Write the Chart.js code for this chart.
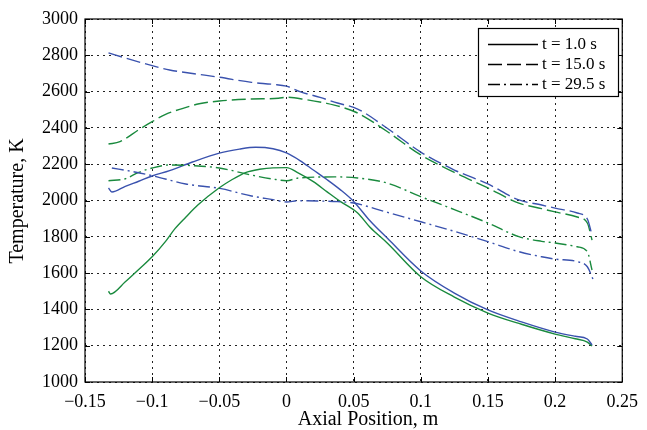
<!DOCTYPE html>
<html>
<head>
<meta charset="utf-8">
<script src="https://cdn.jsdelivr.net/npm/chart.js@4/dist/chart.umd.min.js"></script>
<style>
  html, body { margin: 0; padding: 0; background: #fff; }
  #chart { display: block; }
</style>
</head>
<body>
<canvas id="chart" width="647" height="430"></canvas>
<script>
// temperature profiles along the axis, two runs per time step
const xSolidBlue = [-0.1325, -0.13, -0.12, -0.11, -0.1, -0.087, -0.07, -0.05, -0.035, -0.023, -0.01, 0, 0.01, 0.02, 0.03, 0.04, 0.05, 0.062, 0.075, 0.1, 0.125, 0.15, 0.175, 0.2, 0.215, 0.224, 0.2275];
const ySolidBlue = [2069, 2047, 2078, 2106, 2135, 2165, 2212, 2261, 2283, 2293, 2285, 2262, 2220, 2168, 2116, 2060, 1995, 1890, 1793, 1612, 1490, 1397, 1331, 1275, 1252, 1237, 1204];

const xSolidGreen = [-0.1325, -0.131, -0.12, -0.11, -0.1, -0.09, -0.083, -0.075, -0.066, -0.05, -0.041, -0.03, -0.02, -0.01, 0, 0.009, 0.02, 0.03, 0.04, 0.053, 0.062, 0.075, 0.1, 0.125, 0.15, 0.175, 0.2, 0.215, 0.224, 0.2275];
const ySolidGreen = [1500, 1485, 1552, 1620, 1690, 1775, 1845, 1908, 1975, 2070, 2113, 2155, 2172, 2180, 2181, 2151, 2104, 2049, 1995, 1931, 1854, 1766, 1580, 1468, 1380, 1318, 1264, 1238, 1220, 1198];

const xDashBlue = [-0.1325, -0.12, -0.1, -0.087, -0.07, -0.05, -0.026, -0.01, 0, 0.01, 0.025, 0.038, 0.053, 0.075, 0.1, 0.125, 0.15, 0.173, 0.19, 0.2, 0.2165, 0.224, 0.2275];
const yDashBlue = [2813, 2785, 2743, 2719, 2700, 2679, 2651, 2640, 2630, 2600, 2568, 2537, 2504, 2398, 2267, 2168, 2091, 2003, 1975, 1958, 1931, 1898, 1810];

const xDashGreen = [-0.1325, -0.124, -0.11, -0.1, -0.09, -0.077, -0.065, -0.05, -0.026, -0.006, 0, 0.015, 0.03, 0.04, 0.053, 0.075, 0.1, 0.125, 0.15, 0.173, 0.19, 0.2, 0.2165, 0.224, 0.2275];
const yDashGreen = [2311, 2324, 2390, 2434, 2475, 2508, 2533, 2548, 2559, 2563, 2569, 2555, 2535, 2517, 2482, 2380, 2251, 2155, 2069, 1986, 1955, 1937, 1909, 1876, 1782];

const xDotBlue = [-0.13, -0.115, -0.1, -0.075, -0.05, -0.026, -0.01, 0, 0.009, 0.025, 0.038, 0.05, 0.075, 0.1, 0.125, 0.15, 0.173, 0.19, 0.2, 0.2165, 0.224, 0.2285];
const yDotBlue = [2179, 2160, 2137, 2091, 2067, 2025, 2005, 1992, 1999, 1997, 1994, 1986, 1935, 1883, 1830, 1773, 1718, 1690, 1677, 1663, 1635, 1562];

const xDotGreen = [-0.1325, -0.12, -0.11, -0.1, -0.087, -0.07, -0.05, -0.026, -0.01, 0, 0.009, 0.038, 0.053, 0.075, 0.1, 0.125, 0.15, 0.173, 0.19, 0.2, 0.2165, 0.224, 0.2275];
const yDotGreen = [2109, 2120, 2155, 2179, 2196, 2192, 2179, 2140, 2118, 2109, 2124, 2130, 2124, 2096, 2021, 1950, 1876, 1801, 1775, 1766, 1745, 1718, 1617];

const legendLabels = ['t = 1.0 s', 't = 15.0 s', 't = 29.5 s'];

const BLUE = '#3a52ae';
const GREEN = '#1a8a3e';
const FONT = "'Liberation Serif', 'Times New Roman', serif";
const DASHES = [[], [14, 5], [12, 4, 2, 4]];

Chart.defaults.font.family = FONT;

function pts(xs, ys) {
    return xs.map((x, i) => ({x: x, y: ys[i]}));
}

function serie(xs, ys, color, style) {
    return {
        data: pts(xs, ys),
        borderColor: color,
        borderWidth: 1.4,
        borderDash: DASHES[style],
        pointRadius: 0,
        cubicInterpolationMode: 'monotone',
        fill: false
    };
}

function fmt(v) {
    let r = Math.round(v * 100) / 100;
    if (r === 0) return '0';
    return (r < 0 ? '\u2212' : '') + Math.abs(r);
}

// frame, inward ticks, axis titles and the boxed legend
const decor = {
    id: 'decor',
    afterDraw(chart) {
        const ctx = chart.ctx;
        const a = chart.chartArea;
        const sx = chart.scales.x, sy = chart.scales.y;
        ctx.save();
        ctx.strokeStyle = '#000';
        ctx.lineWidth = 1.2;
        ctx.setLineDash([]);
        ctx.strokeRect(a.left, a.top, a.right - a.left, a.bottom - a.top);

        ctx.lineWidth = 1;
        ctx.beginPath();
        sx.ticks.forEach(t => {
            const p = Math.round(sx.getPixelForValue(t.value)) + 0.5;
            ctx.moveTo(p, a.bottom); ctx.lineTo(p, a.bottom - 5);
            ctx.moveTo(p, a.top); ctx.lineTo(p, a.top + 5);
        });
        sy.ticks.forEach(t => {
            const p = Math.round(sy.getPixelForValue(t.value)) + 0.5;
            ctx.moveTo(a.left, p); ctx.lineTo(a.left + 5, p);
            ctx.moveTo(a.right, p); ctx.lineTo(a.right - 5, p);
        });
        ctx.stroke();

        ctx.fillStyle = '#000';
        ctx.font = '20px ' + FONT;
        ctx.textAlign = 'center';
        ctx.textBaseline = 'middle';
        ctx.fillText('Axial Position, m', 368, 420);
        ctx.save();
        ctx.translate(18, 201);
        ctx.rotate(-Math.PI / 2);
        ctx.fillText('Temperature, K', 0, 0);
        ctx.restore();

        // legend
        const bx = 478.5, by = 28.5, bw = 140, bh = 68;
        ctx.fillStyle = '#fff';
        ctx.fillRect(bx, by, bw, bh);
        ctx.lineWidth = 1.2;
        ctx.strokeRect(bx, by, bw, bh);
        ctx.fillStyle = '#000';
        ctx.font = '17px ' + FONT;
        ctx.textAlign = 'left';
        legendLabels.forEach((lab, i) => {
            const y = 44.5 + i * 20;
            ctx.beginPath();
            ctx.setLineDash(DASHES[i]);
            ctx.lineWidth = 1.4;
            ctx.moveTo(488, y);
            ctx.lineTo(538, y);
            ctx.stroke();
            ctx.fillText(lab, 542, y);
        });
        ctx.restore();
    }
};

new Chart(document.getElementById('chart'), {
    type: 'line',
    data: {
        datasets: [
            serie(xDashBlue, yDashBlue, BLUE, 1),
            serie(xDashGreen, yDashGreen, GREEN, 1),
            serie(xDotBlue, yDotBlue, BLUE, 2),
            serie(xDotGreen, yDotGreen, GREEN, 2),
            serie(xSolidBlue, ySolidBlue, BLUE, 0),
            serie(xSolidGreen, ySolidGreen, GREEN, 0)
        ]
    },
    options: {
        responsive: false,
        animation: false,
        layout: { padding: { top: 19, right: 18, left: 0, bottom: 0 } },
        plugins: { legend: { display: false }, tooltip: { enabled: false } },
        scales: {
            x: {
                type: 'linear',
                min: -0.15,
                max: 0.25,
                afterFit: s => { s.height = 48; },
                ticks: {
                    stepSize: 0.05,
                    color: '#000',
                    font: { family: FONT, size: 18 },
                    padding: 9,
                    maxRotation: 0,
                    callback: v => fmt(v)
                },
                grid: { color: '#222', lineWidth: 1, drawTicks: false },
                border: { display: false, dash: [2, 4] }
            },
            y: {
                min: 1000,
                max: 3000,
                afterFit: s => { s.width = 85; },
                ticks: {
                    stepSize: 200,
                    color: '#000',
                    font: { family: FONT, size: 18 },
                    padding: 7,
                    callback: v => String(v)
                },
                grid: { color: '#222', lineWidth: 1, drawTicks: false },
                border: { display: false, dash: [2, 4] }
            }
        }
    },
    plugins: [decor]
});
</script>
</body>
</html>
